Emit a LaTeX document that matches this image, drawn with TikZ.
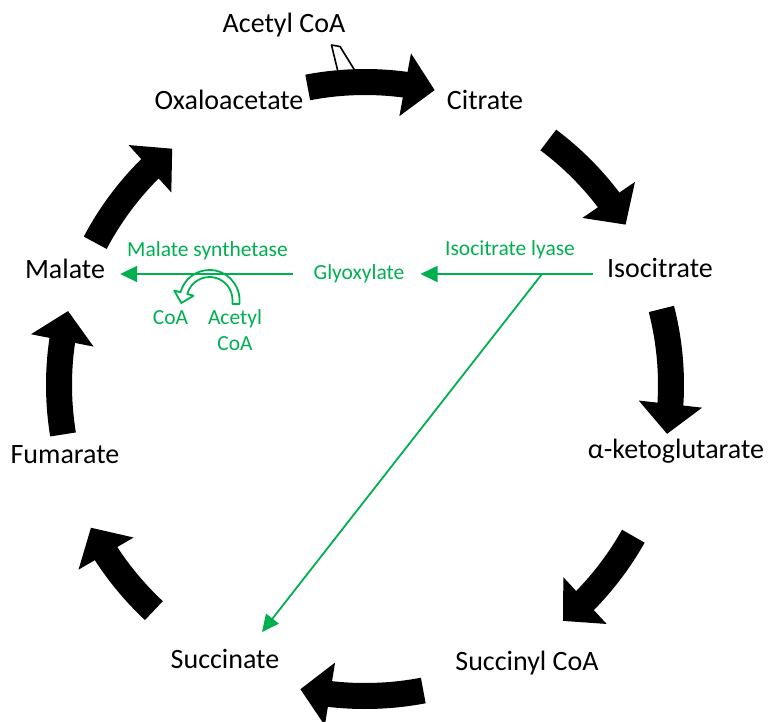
\documentclass[tikz,border=0pt]{standalone}
\usepackage{fontspec}
\setmainfont{Carlito}
\definecolor{glygreen}{RGB}{0,176,80}
\usetikzlibrary{arrows.meta,bending}

\begin{document}
\begin{tikzpicture}[x=1pt,y=-1pt,
  metab/.style={font=\fontsize{28}{32}\selectfont,inner sep=0pt,text height=0.65em,text depth=0pt},
  enz/.style={font=\fontsize{21.5}{26}\selectfont,text=glygreen,inner sep=0pt,text height=1.17em,text depth=0pt},
  cycarrow/.style={line width=26pt,-{Triangle[length=30pt,width=62pt]}},
  gline/.style={glygreen,line width=1.8pt,-{Triangle[length=17pt,width=16pt]}}]
  \useasboundingbox (0,0) rectangle (773,721);

  \node[metab] (acoa) at (284,29) {Acetyl CoA};
  \node[metab] (oaa) at (229,106) {Oxaloacetate};
  \node[metab] (cit) at (485,106) {Citrate};
  \node[metab] (iso) at (660,274) {Isocitrate};
  \node[metab] (akg) at (676,455) {α-ketoglutarate};
  \node[metab] (scoa) at (527,667) {Succinyl CoA};
  \node[metab] (succ) at (225,665) {Succinate};
  \node[metab] (fum) at (65,460) {Fumarate};
  \node[metab] (mal) at (65,275) {Malate};

  \node[enz] (glyox) at (359,274) {Glyoxylate};
  \node[enz] (lyase) at (510,250) {Isocitrate lyase};
  \node[enz] (synth) at (207.5,251) {Malate synthetase};
  \node[enz] (coa) at (170.5,318.5) {CoA};
  \node[enz,text height=,align=center] (accoa) at (235,330) {Acetyl\\CoA};

  \draw[fill=white,line width=1.6pt,line join=round] (331.5,45) -- (340,46.5) -- (357,74) -- (338.5,74) -- cycle;
  \foreach \a/\b/\r in {-100.9/-76.7/303,-53.2/-31.6/306,-14.4/9.2/306,29.4/50/308,
                        79.2/102/311,133.1/152.5/309,170.7/194/306,207.8/230.8/305}
    \draw[cycarrow] ([shift={(\a:\r)}]365,385) arc[start angle=\a,end angle=\b,radius=\r];

  \draw[glygreen,line width=1.8pt,fill=white,line join=round]
    (239.5,304) -- ([shift={(209.5,300)}]0:30) arc[start angle=0,end angle=-165,radius=30]
    -- ([shift={(209.5,300)}]-165:36.5) -- (181.3,303)
    -- ([shift={(209.5,300)}]-165:16.5) -- ([shift={(209.5,300)}]-165:23)
    arc[start angle=-165,end angle=0,radius=23] -- (232.5,304) -- cycle;

  \coordinate (fork) at (542,274);
  \coordinate (succtip) at (262,632);
  \draw[gline,shorten <=14pt,shorten >=16pt] (iso.west |- glyox) -- (glyox.east);
  \draw[gline,shorten <=20pt,shorten >=15pt] (glyox.west) -- (mal.east |- glyox);
  \draw[gline] (fork) -- (succtip);
\end{tikzpicture}
\end{document}
